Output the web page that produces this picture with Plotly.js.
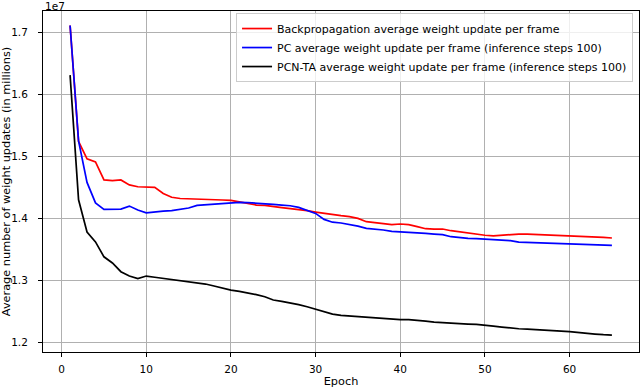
<!DOCTYPE html>
<html>
<head>
<meta charset="utf-8">
<script src="https://cdn.plot.ly/plotly-3.0.1.min.js"></script>
<style>
  html, body { margin: 0; padding: 0; background: #fff; }
  #chart { width: 640px; height: 388px; }
</style>
</head>
<body>
<div id="chart"></div>
<script>
// epochs 1..65, values in units of 1e7 weight updates
const epochs = [];
for (let i = 1; i <= 65; i++) epochs.push(i);

const backprop = [
  1.711, 1.524, 1.496, 1.491, 1.462, 1.461, 1.462, 1.454, 1.451, 1.451,
  1.450, 1.440, 1.434, 1.432, 1.4317, 1.4317, 1.4312, 1.4306, 1.4296, 1.429,
  1.4263, 1.4231, 1.4215, 1.421, 1.4188, 1.4172, 1.4156, 1.4145, 1.4124, 1.4102,
  1.408, 1.4065, 1.4043, 1.4027, 1.400, 1.3946, 1.393, 1.3914, 1.3898, 1.3909,
  1.3898, 1.3866, 1.3833, 1.3828, 1.3828, 1.3801, 1.378, 1.3769, 1.3747, 1.3728,
  1.3718, 1.3729, 1.3731, 1.3747, 1.3747, 1.3742, 1.3737, 1.3731, 1.3726, 1.3715,
  1.371, 1.3704, 1.3699, 1.3694, 1.3683
];

const pc = [
  1.711, 1.525, 1.458, 1.425, 1.4145, 1.4145, 1.415, 1.4198, 1.4135, 1.409,
  1.411, 1.4118, 1.4124, 1.4145, 1.4167, 1.421, 1.422, 1.4226, 1.4242, 1.4258,
  1.4258, 1.4253, 1.4247, 1.4242, 1.4226, 1.4215, 1.4204, 1.4177, 1.4134, 1.408,
  1.3984, 1.3938, 1.3925, 1.3903, 1.3876, 1.3839, 1.3828, 1.3812, 1.379, 1.3785,
  1.378, 1.3769, 1.3758, 1.3747, 1.3737, 1.3704, 1.3688, 1.3677, 1.3672, 1.3667,
  1.3658, 1.3648, 1.364, 1.3618, 1.3613, 1.3608, 1.3602, 1.3597, 1.3591, 1.3586,
  1.3586, 1.358, 1.3575, 1.357, 1.3565
];

const pcnta = [
  1.631, 1.430, 1.378, 1.362, 1.338, 1.328, 1.314, 1.307, 1.303, 1.307,
  1.305, 1.3032, 1.3016, 1.2995, 1.2978, 1.2962, 1.2941, 1.2909, 1.2871, 1.2844,
  1.2823, 1.2801, 1.2769, 1.2737, 1.2683, 1.2661, 1.264, 1.2608, 1.2575, 1.2538,
  1.2489, 1.2457, 1.2435, 1.2425, 1.2414, 1.2403, 1.2392, 1.2385, 1.2376, 1.2366,
  1.2366, 1.236, 1.2344, 1.2328, 1.2317, 1.2306, 1.2301, 1.2296, 1.229, 1.228,
  1.2263, 1.2247, 1.2231, 1.222, 1.2215, 1.221, 1.2199, 1.2188, 1.2183, 1.2172,
  1.2156, 1.2145, 1.2134, 1.2124, 1.2118
];

const seriesNames = [
  'Backpropagation average weight update per frame',
  'PC average weight update per frame (inference steps 100)',
  'PCN-TA average weight update per frame (inference steps 100)'
];
const xTicks = [0, 10, 20, 30, 40, 50, 60];
const yTicks = [1.2, 1.3, 1.4, 1.5, 1.6, 1.7];

const font = 'DejaVu Sans, sans-serif';

const data = [
  {x: epochs, y: backprop, name: seriesNames[0], color: 'red'},
  {x: epochs, y: pc, name: seriesNames[1], color: 'blue'},
  {x: epochs, y: pcnta, name: seriesNames[2], color: 'black'}
].map(s => ({
  type: 'scatter',
  mode: 'lines',
  x: s.x,
  y: s.y,
  name: s.name,
  line: {color: s.color, width: 1.7}
}));

const axisCommon = {
  showgrid: true,
  gridcolor: '#b0b0b0',
  gridwidth: 1,
  zeroline: false,
  showline: true,
  linecolor: '#000',
  linewidth: 1,
  mirror: true,
  ticks: 'outside',
  ticklen: 4,
  tickcolor: '#000',
  tickfont: {family: font, size: 10.5, color: '#000'}
};

const layout = {
  width: 640,
  height: 388,
  margin: {l: 43, r: 1, t: 11, b: 36, pad: 0},
  paper_bgcolor: '#fff',
  plot_bgcolor: '#fff',
  font: {family: font, size: 10, color: '#000'},
  xaxis: Object.assign({}, axisCommon, {
    range: [-2.2, 68.2],
    tickvals: xTicks,
    ticktext: xTicks.map(String),
    ticklabelstandoff: 3,
    title: {text: 'Epoch', font: {family: font, size: 11.3}, standoff: 6}
  }),
  yaxis: Object.assign({}, axisCommon, {
    range: [1.1845, 1.7344],
    tickvals: yTicks,
    ticktext: yTicks.map(v => v.toFixed(1)),
    ticklabelstandoff: 8,
    title: {text: 'Average number of weight updates (in millions)', font: {family: font, size: 11.3}, standoff: 3}
  }),
  legend: {
    x: 0.99,
    y: 0.994,
    xanchor: 'right',
    yanchor: 'top',
    bgcolor: 'rgba(255,255,255,0.8)',
    bordercolor: '#cccccc',
    borderwidth: 1,
    font: {family: font, size: 11, color: '#000'},
    tracegroupgap: 0,
    itemwidth: 30
  },
  annotations: [{
    text: '1e7',
    xref: 'paper', yref: 'paper',
    x: 0, y: 1,
    xanchor: 'left', yanchor: 'bottom',
    showarrow: false,
    font: {family: font, size: 10.5, color: '#000'},
    yshift: -3
  }],
  showlegend: true
};

Plotly.newPlot('chart', data, layout, {displayModeBar: false, staticPlot: true});
</script>
</body>
</html>
